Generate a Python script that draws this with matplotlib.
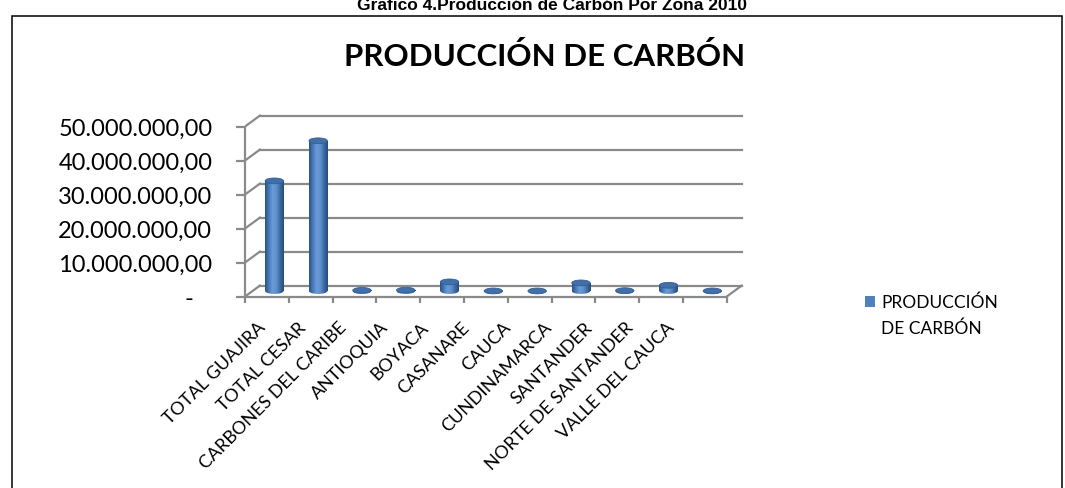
import numpy as np
import matplotlib
matplotlib.use("Agg")
import matplotlib.pyplot as plt
from matplotlib.colors import LinearSegmentedColormap
from matplotlib.patches import Ellipse, Rectangle, Patch

# datos: producción de carbón por zona (toneladas)
zonas = ['TOTAL GUAJIRA', 'TOTAL CESAR', 'CARBONES DEL CARIBE', 'ANTIOQUIA',
         'BOYACA', 'CASANARE', 'CAUCA', 'CUNDINAMARCA', 'SANTANDER',
         'NORTE DE SANTANDER', 'VALLE DEL CAUCA']
produccion = [32.4e6, 44.2e6, 0.20e6, 0.26e6, 2.7e6, 0.03e6, 0.03e6,
              2.4e6, 0.12e6, 1.7e6, 0.04e6]
yticks = [0, 10e6, 20e6, 30e6, 40e6, 50e6]
serie = 'PRODUCCIÓN DE CARBÓN'

FONT = 'Lato'
GRIS = '#8A8A8A'
AZUL = '#4F81BD'

# pseudo 3D: desplazamiento de profundidad (en unidades de datos)
DX = 0.34
DY = 3.2e6
ANCHO = 0.42
ELIP = 1.7e6

W, H = 1065, 489
fig = plt.figure(figsize=(W / 100, H / 100), dpi=100)

# marco
fig.add_artist(Rectangle((12 / W, -0.1), (1062 - 12) / W, 1.1 - 17 / H,
                         transform=fig.transFigure, fill=False,
                         ec='black', lw=1.1))

# el título del documento queda cortado arriba, como en el original
fig.text(552 / W, 1 - 9.5 / H, 'Grafico 4.Producción de Carbón Por Zona 2010',
         ha='center', va='baseline', family='Liberation Sans',
         weight='bold', fontsize=12.5)
fig.text(545 / W, 1 - 57 / H, serie, ha='center', va='center',
         family=FONT, weight='bold', fontsize=22.5)

px_cat = 43.8
px_val = 3.4 / 1e6
ymax = 55e6
x_left, y_base = 245, 297.5
ax = fig.add_axes([x_left / W, (H - y_base) / H, 11.5 * px_cat / W,
                   ymax * px_val / H])
ax.patch.set_alpha(0)
n = len(zonas)

# paredes y rejilla
for v in yticks:
    ax.plot([0, DX], [v, v + DY], color=GRIS, lw=1.6, zorder=1)
    ax.plot([DX, n + DX], [v + DY, v + DY], color=GRIS, lw=1.6, zorder=1)
ax.plot([n, n + DX], [0, DY], color=GRIS, lw=1.6, zorder=1)

# cilindros
cyl = LinearSegmentedColormap.from_list(
    'cyl', ['#2B5283', '#477ABA', '#6B9CD8', '#5F90CF', '#3D6BA3', '#264B78'])
grad = np.linspace(0, 1, 64)[None, :]
base = DY / 2
xs = np.arange(n) + 0.5 + DX / 2
bars = ax.bar(xs, produccion, width=ANCHO, bottom=base, color=AZUL,
              linewidth=0, zorder=3)
for rect, cx, val in zip(bars, xs, produccion):
    x0, x1 = cx - ANCHO / 2, cx + ANCHO / 2
    im = ax.imshow(grad, extent=(x0, x1, base, base + val), cmap=cyl,
                   aspect='auto', zorder=3.1, interpolation='bilinear')
    im.set_clip_path(rect)
    bottom = Ellipse((cx, base), ANCHO, ELIP, fc='none', ec='none')
    ax.add_patch(bottom)
    im2 = ax.imshow(grad, extent=(x0, x1, base - ELIP / 2, base + 0.01),
                    cmap=cyl, aspect='auto', zorder=3.0,
                    interpolation='bilinear')
    im2.set_clip_path(bottom)
    ax.add_patch(Ellipse((cx, base + val), ANCHO, ELIP, fc='#416FAA',
                         ec='#365E92', lw=0.6, zorder=4))

ax.set_xlim(0, 11.5)
ax.set_ylim(0, ymax)

for s in ['top', 'right']:
    ax.spines[s].set_visible(False)
for s in ['left', 'bottom']:
    ax.spines[s].set_color(GRIS)
    ax.spines[s].set_linewidth(1.6)
ax.spines['left'].set_bounds(0, 50e6)
ax.spines['bottom'].set_bounds(0, n)

ax.set_yticks(yticks)
ax.set_yticklabels(['-   '] + ['{:,.2f}'.format(v).replace(',', 'X')
                               .replace('.', ',').replace('X', '.')
                               for v in yticks[1:]],
                   family=FONT, fontsize=17)
ax.tick_params(axis='y', length=6.5, width=1.6, color=GRIS, pad=17)
ax.set_xticks(np.arange(n + 1))
ax.set_xticklabels([])
ax.tick_params(axis='x', length=4, width=1.6, color=GRIS)

# etiquetas de categoría (Excel las coloca en un tramo algo más corto)
lab = fig.add_axes([242 / W, (H - y_base) / H, 450 / W, 0.01])
lab.set_xlim(0, n)
lab.patch.set_alpha(0)
for s in lab.spines.values():
    s.set_visible(False)
lab.set_yticks([])
lab.set_xticks(np.arange(n) + 0.5)
lab.set_xticklabels(zonas, rotation=45, ha='right', va='center',
                    rotation_mode='anchor', family=FONT, fontsize=13)
lab.tick_params(axis='x', length=0, pad=20)

# leyenda
fig.legend(handles=[Patch(fc=AZUL, ec='none'), Patch(fc='none', ec='none')],
           labels=['PRODUCCIÓN', 'DE CARBÓN'], loc='upper left',
           bbox_to_anchor=(865 / W, 1 - 295 / H), frameon=False,
           borderpad=0, borderaxespad=0, handlelength=0.55,
           handleheight=0.55, handletextpad=0.4, labelspacing=0.5,
           prop={'family': FONT, 'size': 12.5})

fig.savefig('out.png', dpi=100)
